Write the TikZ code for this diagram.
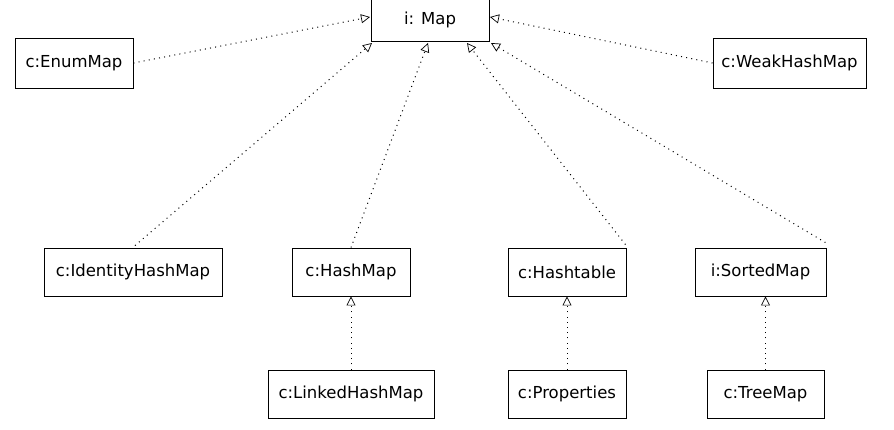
\documentclass[tikz,border=0pt]{standalone}
\usepackage{fontspec}
\setmainfont{DejaVu Sans}
\usetikzlibrary{arrows.meta,calc}
\begin{document}
\begin{tikzpicture}[x=1pt,y=-1pt,
  box/.style={draw,line width=0.9pt,inner sep=0pt,font=\fontsize{16.5}{19}\selectfont},
  real/.style={line width=1pt,dash pattern=on 1pt off 4.2pt,-{Triangle[open,length=9pt,width=9pt,line width=0.7pt]}}]
\useasboundingbox (0,0) rectangle (894,429);
\begin{scope}
\clip (0,0) rectangle (894,429);
\node[box,minimum width=118pt,minimum height=43pt] (map) at (430,19.5) {i: Map};
\end{scope}
\node[box,minimum width=118pt,minimum height=50pt] (enum) at (74,63) {c:EnumMap};
\node[box,minimum width=153pt,minimum height=50pt] (weak) at (789.5,63) {c:WeakHashMap};
\node[box,minimum width=178pt,minimum height=48pt] (ident) at (133,272) {c:IdentityHashMap};
\node[box,minimum width=118pt,minimum height=48pt] (hashmap) at (351,272) {c:HashMap};
\node[box,minimum width=118pt,minimum height=48pt] (hashtable) at (567,272) {c:Hashtable};
\node[box,minimum width=131pt,minimum height=48pt] (sorted) at (760.5,272) {i:SortedMap};
\node[box,minimum width=166pt,minimum height=48pt] (linked) at (351,394) {c:LinkedHashMap};
\node[box,minimum width=118pt,minimum height=48pt] (props) at (567,394) {c:Properties};
\node[box,minimum width=117pt,minimum height=48pt] (tree) at (765.5,394) {c:TreeMap};
\coordinate (mw) at (370,17);
\coordinate (me) at (490,17);
\coordinate (b1) at (372,43);
\coordinate (b2) at (428,43);
\coordinate (b3) at (467,43);
\coordinate (b4) at (491,43);
\draw[real] (enum.east) -- (mw);
\draw[real] (weak.west) -- (me);
\draw[real] ($(ident.north)+(2,-2)$) -- (b1);
\draw[real] (hashmap.north) -- (b2);
\draw[real] ($(hashtable.north east)+(-1,-3)$) -- (b3);
\draw[real] ($(sorted.north east)+(-1,-5)$) -- (b4);
\draw[real] (linked.north) -- (linked.north |- hashmap.south);
\draw[real] (props.north) -- (props.north |- hashtable.south);
\draw[real] (tree.north) -- (tree.north |- sorted.south);
\end{tikzpicture}
\end{document}
